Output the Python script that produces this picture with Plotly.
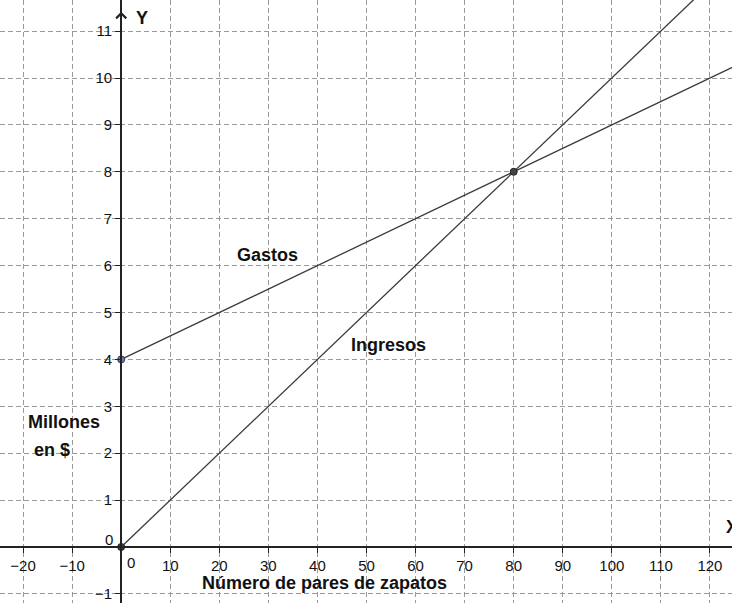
import plotly.graph_objects as go

# ---- data ----
pares = [0, 80, 130]            # número de pares de zapatos
ingresos = [0, 8, 13]           # millones $
gastos = [4, 8, 10.5]           # millones $
puntos_x = [0, 80]
puntos_y = [0, 8]
punto_gastos_x = [0]
punto_gastos_y = [4]

x_ticks = [-20, -10, 10, 20, 30, 40, 50, 60, 70, 80, 90, 100, 110, 120]
y_ticks = [-1, 1, 2, 3, 4, 5, 6, 7, 8, 9, 10, 11]

x_range = [-24.7, 124.5]
y_range = [-1.194, 11.663]

FONT = "Liberation Sans, Arial, sans-serif"
LINE_COL = "#3a3a3a"

fig = go.Figure()
fig.add_trace(go.Scatter(x=pares, y=gastos, mode="lines",
                         line=dict(color=LINE_COL, width=1.3), hoverinfo="skip"))
fig.add_trace(go.Scatter(x=pares, y=ingresos, mode="lines",
                         line=dict(color=LINE_COL, width=1.3), hoverinfo="skip"))
fig.add_trace(go.Scatter(x=puntos_x, y=puntos_y, mode="markers",
                         marker=dict(color="#444444", size=7,
                                     line=dict(color="#222222", width=1)),
                         cliponaxis=False, hoverinfo="skip"))
fig.add_trace(go.Scatter(x=punto_gastos_x, y=punto_gastos_y, mode="markers",
                         marker=dict(color="#6d7cc0", size=7,
                                     line=dict(color="#333333", width=1)),
                         cliponaxis=False, hoverinfo="skip"))

xpos = (0 - y_range[0]) / (y_range[1] - y_range[0])
ypos = (0 - x_range[0]) / (x_range[1] - x_range[0])

grid = dict(showgrid=True, gridcolor="#9a9a9a", gridwidth=1, griddash="5px,3px",
            zeroline=False, showline=True, linecolor="#222222", linewidth=2,
            ticks="outside", ticklen=5, tickcolor="#222222", tickwidth=1,
            tickfont=dict(family=FONT, size=15, color="#111111"), fixedrange=True)

fig.update_layout(
    width=732, height=603,
    margin=dict(l=0, r=0, t=0, b=0),
    paper_bgcolor="white", plot_bgcolor="white",
    showlegend=False,
    xaxis=dict(range=x_range, tickvals=x_ticks,
               ticktext=[("\u2212" + str(-v)) if v < 0 else str(v) for v in x_ticks],
               anchor="free", position=xpos, **grid),
    yaxis=dict(range=y_range, tickvals=y_ticks,
               ticktext=[("\u2212" + str(-v)) if v < 0 else str(v) for v in y_ticks],
               anchor="free", position=ypos, **grid),
)

def label(x, y, text, size=18, bold=True, xanchor="center"):
    fig.add_annotation(x=x, y=y, xref="x", yref="y", text=("<b>%s</b>" % text) if bold else text,
                       showarrow=False, xanchor=xanchor, yanchor="middle",
                       font=dict(family=FONT, size=size, color="#111111"))

label(29.9, 6.23, "Gastos")
label(54.4, 4.31, "Ingresos")
label(41.5, -0.77, "Número de pares de zapatos")
label(-11.7, 2.66, "Millones")
label(-14.1, 2.07, "en $")
label(4.3, 11.28, "Y", size=18, bold=True)
label(122.8, 0.43, "X", size=18, bold=True, xanchor="left")
label(-2.45, 0.15, "0", size=15, bold=False)
label(2.0, -0.34, "0", size=15, bold=False)

# arrow on y axis
fig.add_annotation(x=0, y=y_range[1] - 0.25, ax=0, ay=y_range[1] - 0.7,
                   xref="x", yref="y", axref="x", ayref="y", text="",
                   showarrow=True, arrowhead=4, arrowsize=1.3, arrowwidth=1.5,
                   arrowcolor="#222222")

fig.write_html("out.html", config={"displayModeBar": False},
               post_script="document.body.style.margin='0';document.body.style.padding='0';")
